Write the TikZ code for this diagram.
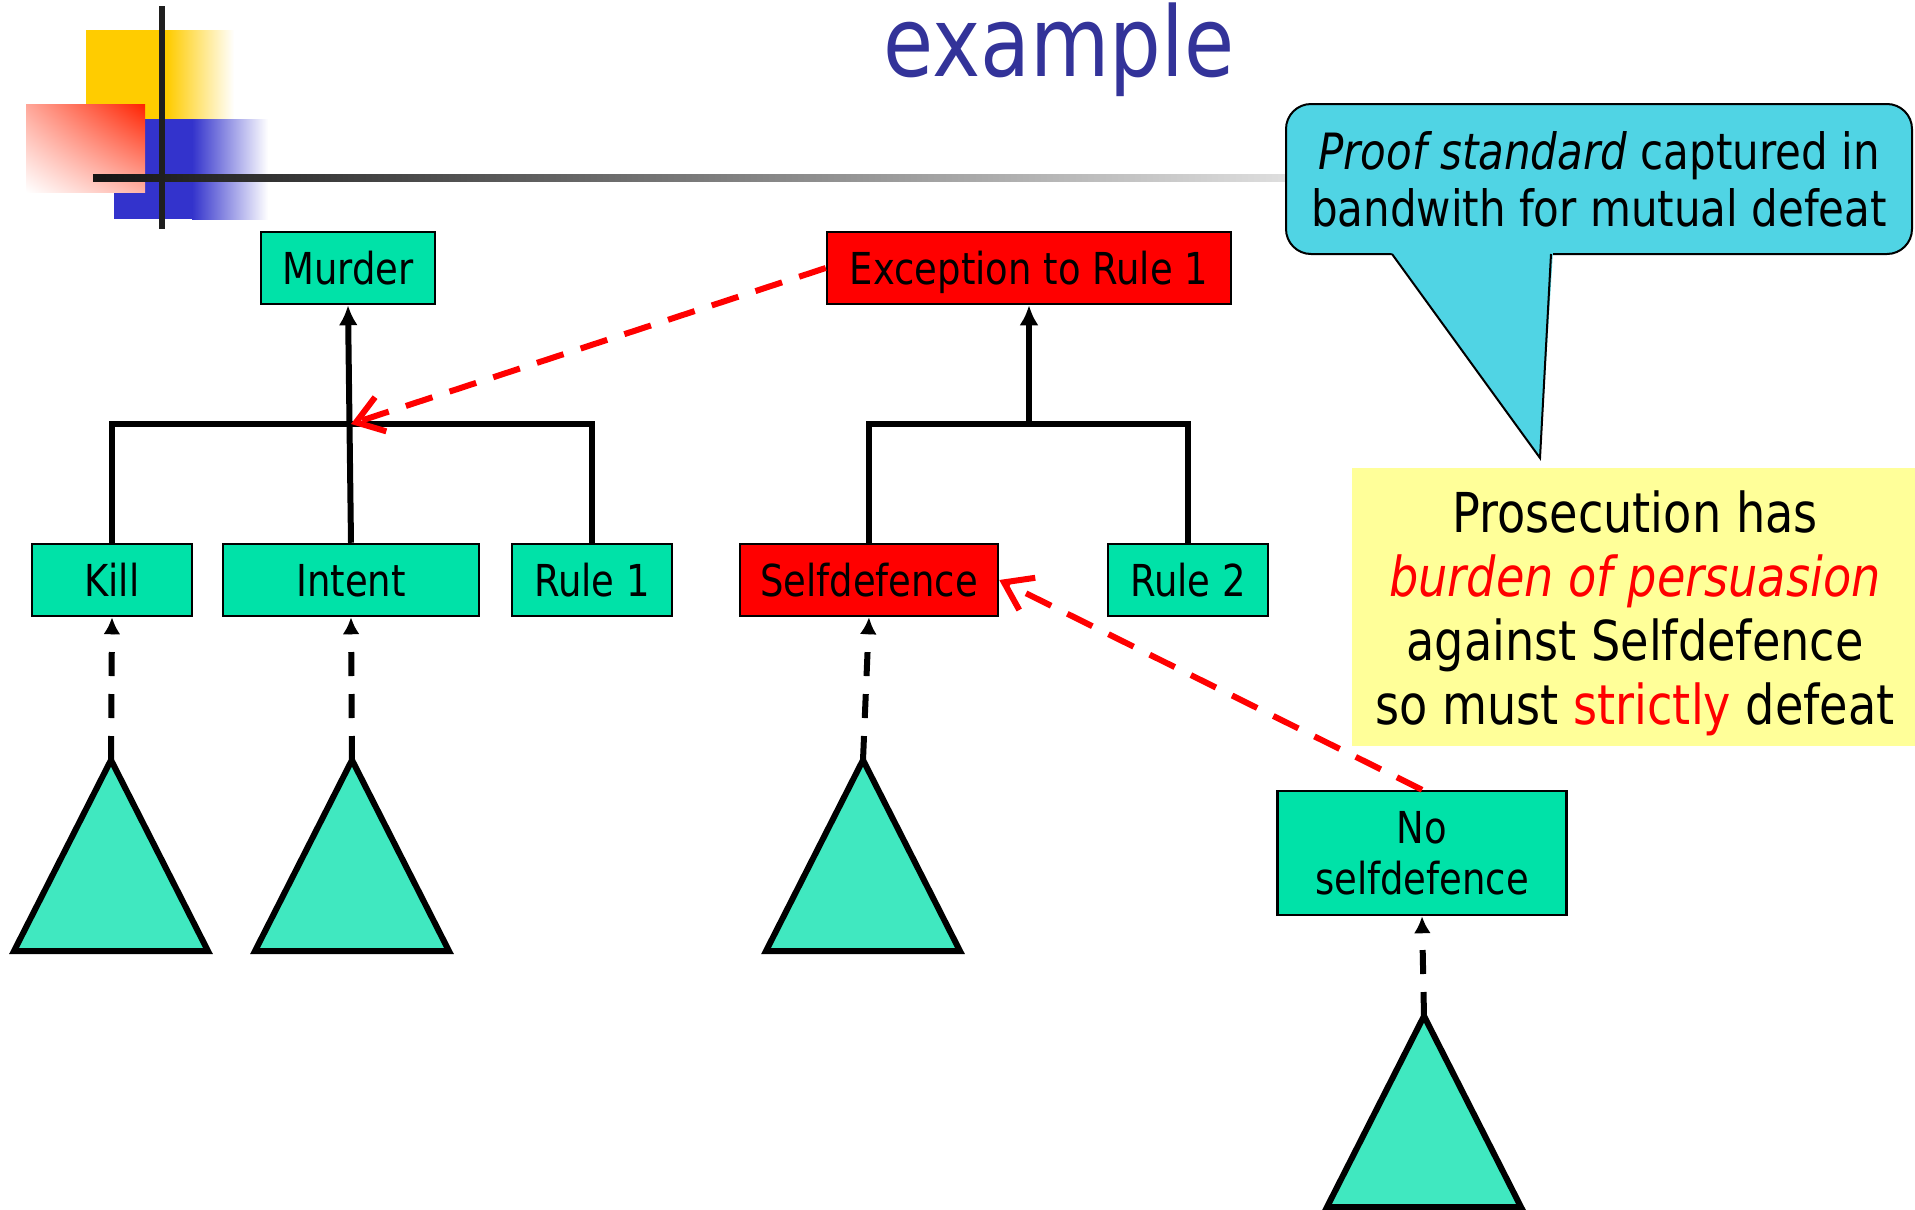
\documentclass[tikz,border=0pt]{standalone}
\usepackage{fontspec}
\setmainfont{DejaVu Sans}[FakeStretch=0.84]
\usepackage{tikz}
\usetikzlibrary{arrows.meta, shadings}

\definecolor{leafgreen}{HTML}{00E2A8}
\definecolor{subgreen}{HTML}{40E8C0}
\definecolor{defeatred}{HTML}{FF0000}
\definecolor{calloutcyan}{HTML}{50D4E4}
\definecolor{noteyellow}{HTML}{FFFF99}
\definecolor{titleblue}{HTML}{333399}
\definecolor{decoyellow}{HTML}{FFCC00}
\definecolor{decoblue}{HTML}{3333CC}
\definecolor{decored}{HTML}{FF2200}

\begin{document}
\begin{tikzpicture}[
    x=1pt, y=-1pt,
    every node/.style={font=\fontsize{44}{51}\selectfont, align=center},
    plainbox/.style={
        draw,
        line width=2.5pt,
        fill=leafgreen,
        minimum height=72pt,
        inner sep=0pt
    },
    box/.style={
        plainbox,
        text height=33pt,
        text depth=0pt
    },
    attacked/.style={
        box,
        fill=defeatred
    },
    callout/.style={
        draw,
        line width=2pt,
        fill=calloutcyan,
        rounded corners=25pt,
        font=\fontsize{50}{57}\selectfont
    },
    tree/.style={
        line width=6pt,
        line join=miter
    },
    arrow/.style={
        tree,
        -{Latex[length=20pt, width=19pt]}
    },
    dasharrow/.style={
        line width=6pt,
        dash pattern=on 24pt off 18pt,
        -{Latex[length=17pt, width=17pt]}
    },
    defeat/.style={
        line width=6pt,
        defeatred,
        dash pattern=on 28pt off 18pt,
        -{Straight Barb[length=26pt, width=36pt]}
    },
    subtree/.style={
        draw,
        line width=6pt,
        line join=miter,
        fill=subgreen
    }
]
\useasboundingbox (0,0) rectangle (1915,1210);

% slide decoration
\fill[decoyellow] (86,30) rectangle (167,119);
\shade[left color=decoyellow, right color=white] (167,30) rectangle (234,119);
\fill[decoblue] (114,119) rectangle (192,219);
\shade[left color=decoblue, right color=white] (192,119) rectangle (268,219);
\shade[upper left=decored!40, upper right=decored, lower left=white, lower right=decored!35] (26,104) rectangle (145,192);
\shade[left color=black!92, right color=black!12] (93,174) rectangle (1300,181);
\fill[black!88] (159,6) rectangle (165,229);

\node[font=\fontsize{97}{100}\selectfont, text=titleblue, anchor=base] (title) at (1059,76) {example};

% arguments
\node[box, minimum width=174pt] (murder) at (348,268) {Murder};
\node[attacked, minimum width=404pt] (exception) at (1029,268) {Exception to Rule 1};

\node[box, minimum width=160pt] (kill) at (112,580) {Kill};
\node[box, minimum width=256pt] (intent) at (351,580) {Intent};
\node[box, minimum width=160pt] (rule1) at (592,580) {Rule 1};
\node[attacked, minimum width=258pt] (selfdef) at (869,580) {Selfdefence};
\node[box, minimum width=160pt] (rule2) at (1188,580) {Rule 2};

\node[plainbox, minimum width=289pt, minimum height=124pt] (noself) at (1422,853) {No\\selfdefence};

\coordinate (murderjoin) at (351,424);
\coordinate (excjoin) at (1029,424);

\draw[tree] (kill.north) |- (murderjoin) -| (rule1.north);
\draw[arrow] (intent.north) -- (murder.south);
\draw[tree] (selfdef.north) |- (excjoin) -| (rule2.north);
\draw[arrow] (excjoin) -- (exception.south);

% subarguments
\coordinate (killsub) at (111,760);
\coordinate (intentsub) at (352,760);
\coordinate (selfsub) at (863,760);
\coordinate (noselfsub) at (1424,1016);

\foreach \apex in {killsub, intentsub, selfsub, noselfsub}
    \draw[subtree] (\apex) -- ++(-97,191) -- ++(194,0) -- cycle;

\draw[dasharrow] (killsub) -- (kill.south);
\draw[dasharrow] (intentsub) -- (intent.south);
\draw[dasharrow] (selfsub) -- (selfdef.south);
\draw[dasharrow] (noselfsub) -- (noself.south);

% defeat
\draw[defeat] (exception.west) -- (murderjoin);
\draw[defeat] (noself.north) -- (selfdef.east);

% remarks
\node[callout, minimum width=626pt, minimum height=150pt] (standard) at (1599,179)
{\textit{Proof standard} captured in\\bandwith for mutual defeat};
\fill[calloutcyan] (1390,251) -- (1540,458) -- (1553,251) -- cycle;
\draw[line width=2pt, line join=miter] (1392,254) -- (1540,458) -- (1551,254);

\fill[noteyellow] (1352,468) rectangle (1915,746);
\node[font=\fontsize{55}{64}\selectfont] (burden) at (1635,613)
{Prosecution has\\\textcolor{defeatred}{\textit{burden of persuasion}}\\against Selfdefence\\so must \textcolor{defeatred}{strictly} defeat};

\end{tikzpicture}
\end{document}
